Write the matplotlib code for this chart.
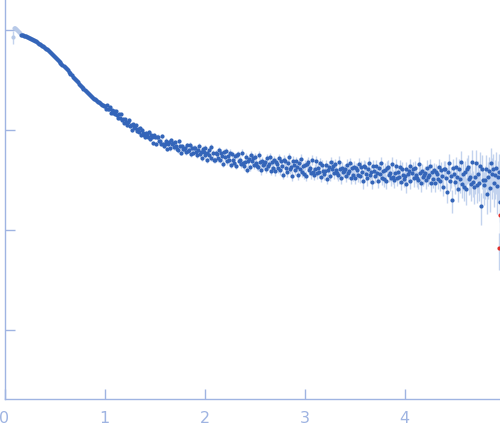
import numpy as np
import matplotlib
matplotlib.use('Agg')
import matplotlib.pyplot as plt

# ---- data ----
q_start = 0.08
q_step = 0.01
log_intensity = [
    -0.070, 0.020,
    0.022, 0.012, 0.004, -0.008, -0.018, -0.030, -0.046, -0.050, -0.053, -0.058,
    -0.061, -0.064, -0.069, -0.073, -0.077, -0.084, -0.088, -0.093, -0.097, -0.103,
    -0.110, -0.115, -0.121, -0.128, -0.136, -0.143, -0.150, -0.158, -0.164, -0.172,
    -0.180, -0.188, -0.195, -0.204, -0.213, -0.223, -0.230, -0.240, -0.248, -0.259,
    -0.268, -0.279, -0.287, -0.298, -0.306, -0.318, -0.328, -0.337, -0.349, -0.358,
    -0.369, -0.382, -0.392, -0.404, -0.418, -0.428, -0.441, -0.452, -0.466, -0.476,
    -0.490, -0.500, -0.515, -0.524, -0.538, -0.548, -0.562, -0.570, -0.581, -0.592,
    -0.600, -0.612, -0.618, -0.632, -0.640, -0.648, -0.662, -0.668, -0.676, -0.688,
    -0.690, -0.703, -0.706, -0.718, -0.722, -0.733, -0.737, -0.750, -0.752, -0.762,
    -0.759, -0.790, -0.754, -0.791, -0.791, -0.768, -0.828, -0.799, -0.829, -0.806,
    -0.842, -0.814, -0.846, -0.884, -0.844, -0.876, -0.842, -0.904, -0.888, -0.926,
    -0.889, -0.924, -0.952, -0.917, -0.896, -0.959, -0.952, -1.001, -0.938, -0.966,
    -0.980, -0.951, -1.013, -0.991, -1.018, -0.982, -1.051, -1.001, -1.035, -1.055,
    -1.072, -1.029, -1.042, -1.071, -1.020, -1.089, -1.046, -1.075, -1.128, -1.053,
    -1.072, -1.139, -1.071, -1.066, -1.115, -1.110, -1.141, -1.064, -1.140, -1.162,
    -1.139, -1.106, -1.190, -1.139, -1.124, -1.181, -1.103, -1.142, -1.127, -1.175,
    -1.120, -1.163, -1.186, -1.199, -1.112, -1.165, -1.228, -1.161, -1.194, -1.187,
    -1.180, -1.222, -1.154, -1.206, -1.198, -1.150, -1.242, -1.184, -1.226, -1.178,
    -1.180, -1.222, -1.254, -1.196, -1.158, -1.240, -1.222, -1.284, -1.186, -1.218,
    -1.254, -1.184, -1.234, -1.296, -1.202, -1.252, -1.170, -1.280, -1.234, -1.296,
    -1.298, -1.228, -1.242, -1.280, -1.198, -1.296, -1.226, -1.264, -1.338, -1.220,
    -1.270, -1.207, -1.313, -1.263, -1.304, -1.228, -1.347, -1.245, -1.299, -1.327,
    -1.264, -1.357, -1.255, -1.244, -1.311, -1.300, -1.341, -1.226, -1.332, -1.360,
    -1.324, -1.270, -1.397, -1.315, -1.288, -1.374, -1.249, -1.307, -1.280, -1.352,
    -1.269, -1.327, -1.356, -1.372, -1.247, -1.319, -1.404, -1.308, -1.351, -1.339,
    -1.325, -1.386, -1.282, -1.358, -1.344, -1.270, -1.406, -1.317, -1.378, -1.304,
    -1.410, -1.321, -1.337, -1.383, -1.279, -1.400, -1.311, -1.357, -1.448, -1.299,
    -1.315, -1.376, -1.422, -1.333, -1.274, -1.395, -1.366, -1.457, -1.308, -1.354,
    -1.400, -1.311, -1.372, -1.448, -1.329, -1.390, -1.286, -1.422, -1.363, -1.439,
    -1.350, -1.456, -1.337, -1.323, -1.399, -1.385, -1.431, -1.297, -1.417, -1.448,
    -1.388, -1.314, -1.435, -1.376, -1.422, -1.332, -1.468, -1.349, -1.410, -1.440,
    -1.410, -1.351, -1.487, -1.398, -1.368, -1.459, -1.325, -1.386, -1.356, -1.432,
    -1.343, -1.404, -1.434, -1.450, -1.316, -1.391, -1.482, -1.378, -1.423, -1.409,
    -1.394, -1.459, -1.347, -1.428, -1.412, -1.333, -1.477, -1.382, -1.446, -1.367,
    -1.479, -1.384, -1.400, -1.448, -1.337, -1.465, -1.370, -1.418, -1.515, -1.356,
    -1.372, -1.437, -1.485, -1.390, -1.326, -1.455, -1.423, -1.520, -1.360, -1.409,
    -1.457, -1.361, -1.426, -1.506, -1.379, -1.443, -1.331, -1.476, -1.413, -1.494,
    -1.398, -1.511, -1.383, -1.368, -1.448, -1.433, -1.481, -1.338, -1.466, -1.499,
    -1.435, -1.356, -1.484, -1.421, -1.469, -1.373, -1.517, -1.390, -1.454, -1.488,
    -1.457, -1.389, -1.542, -1.442, -1.408, -1.510, -1.358, -1.427, -1.393, -1.479,
    -1.377, -1.446, -1.480, -1.497, -1.345, -1.430, -1.533, -1.414, -1.466, -1.450,
    -1.432, -1.505, -1.379, -1.469, -1.452, -1.363, -1.526, -1.418, -1.490, -1.401,
    -1.527, -1.420, -1.438, -1.493, -1.367, -1.512, -1.404, -1.458, -1.567, -1.388,
    -1.394, -1.483, -1.620, -1.418, -1.330, -1.507, -1.463, -1.700, -1.376, -1.443,
    -1.520, -1.370, -1.470, -1.595, -1.395, -1.495, -1.320, -1.545, -1.445, -1.570,
    -1.420, -1.595, -1.395, -1.370, -1.495, -1.470, -1.545, -1.320, -1.520, -1.570,
    -1.470, -1.330, -1.554, -1.442, -1.526, -1.358, -1.760, -1.386, -1.498, -1.554,
    -1.498, -1.386, -1.638, -1.470, -1.414, -1.582, -1.330, -1.442, -1.386, -1.526,
    -1.450, -1.380, -1.560, -1.470, -1.420, -1.720,
]
err_pct = [
    15, 5,
    5, 4, 4, 3, 3, 3, 1, 1, 1, 1,
    1, 1, 1, 1, 1, 1, 1, 1, 1, 1,
    1, 1, 1, 1, 1, 1, 1, 1, 1, 1,
    1, 1, 1, 1, 1, 1, 1, 1, 1, 1,
    1, 1, 1, 1, 1, 1, 1, 1, 1, 1,
    1, 1, 1, 2, 1, 1, 2, 1, 1, 2,
    2, 1, 2, 2, 1, 2, 2, 1, 2, 2,
    2, 2, 2, 2, 2, 2, 2, 2, 2, 2,
    2, 2, 2, 2, 2, 2, 2, 2, 2, 2,
    2, 3, 2, 3, 2, 3, 3, 2, 3, 3,
    3, 3, 2, 3, 3, 3, 3, 3, 3, 3,
    3, 3, 4, 3, 3, 4, 3, 4, 3, 4,
    4, 3, 4, 4, 3, 4, 4, 4, 4, 4,
    4, 4, 4, 5, 4, 4, 5, 4, 5, 4,
    5, 4, 5, 5, 4, 5, 5, 5, 4, 5,
    5, 5, 5, 5, 5, 6, 5, 5, 5, 6,
    5, 6, 5, 6, 6, 5, 6, 6, 6, 6,
    6, 6, 6, 6, 6, 6, 6, 7, 6, 6,
    6, 7, 6, 7, 6, 7, 7, 6, 7, 7,
    7, 7, 6, 7, 7, 7, 7, 7, 7, 7,
    7, 7, 7, 8, 7, 7, 8, 7, 8, 7,
    8, 7, 8, 8, 7, 8, 8, 8, 7, 8,
    8, 8, 8, 8, 8, 9, 8, 8, 8, 9,
    8, 9, 8, 9, 9, 8, 9, 9, 9, 9,
    9, 9, 9, 9, 9, 9, 10, 9, 9, 10,
    9, 10, 9, 10, 10, 9, 10, 10, 10, 10,
    10, 10, 10, 10, 10, 11, 10, 10, 10, 11,
    10, 11, 10, 11, 11, 10, 11, 11, 11, 11,
    11, 11, 11, 11, 11, 12, 11, 11, 11, 12,
    11, 12, 11, 12, 12, 11, 12, 12, 12, 12,
    12, 12, 12, 12, 12, 13, 12, 12, 12, 13,
    12, 13, 12, 13, 13, 12, 13, 13, 13, 13,
    13, 13, 13, 13, 13, 14, 13, 13, 13, 14,
    13, 14, 13, 14, 14, 13, 14, 14, 14, 14,
    14, 14, 14, 15, 14, 14, 15, 14, 15, 14,
    15, 14, 15, 15, 14, 15, 15, 15, 14, 15,
    15, 16, 15, 16, 15, 16, 16, 15, 16, 16,
    16, 16, 17, 16, 16, 17, 16, 17, 16, 17,
    17, 16, 17, 17, 16, 17, 17, 17, 17, 17,
    17, 17, 18, 17, 18, 17, 18, 18, 17, 18,
    18, 18, 18, 19, 18, 18, 19, 18, 19, 18,
    19, 18, 19, 19, 18, 19, 19, 20, 19, 19,
    20, 19, 20, 20, 19, 20, 20, 21, 20, 20,
    20, 21, 22, 21, 23, 22, 24, 26, 22, 23,
    25, 26, 27, 25, 28, 26, 29, 27, 30, 28,
    28, 30, 29, 31, 30, 32, 31, 33, 30, 32,
    32, 34, 33, 35, 34, 36, 35, 38, 34, 36,
    36, 38, 37, 40, 38, 42, 40, 44, 41, 43,
    42, 45, 48, 45, 50, 60,
]
n_excluded = 8
flag_q = [4.94, 4.955]
flag_log_intensity = [-2.18, -1.85]
flag_err_pct = [40, 15]

x_ticks = [0, 1, 2, 3, 4]
x_tick_labels = ['0', '1', '2', '3', '4']
y_ticks = [1, 0.1, 0.01, 0.001]

# ---- derived ----
q = q_start + q_step * np.arange(len(log_intensity))
I = 10.0 ** np.array(log_intensity)
sig = I * np.array(err_pct) / 100.0
fq = np.array(flag_q)
fI = 10.0 ** np.array(flag_log_intensity)
fs = fI * np.array(flag_err_pct) / 100.0

axis_col = '#9fb4e2'
dark = '#3465b9'
light = '#b7c9e8'
err_col = '#c3d3ee'
red = '#e0302c'

fig = plt.figure(figsize=(5.0, 4.37), dpi=100)
ax = fig.add_axes([0.009, 0.087, 0.991, 0.913])
ax.set_yscale('log')

ax.errorbar(q, I, yerr=sig, fmt='none', ecolor=err_col, elinewidth=1.0, capsize=0, zorder=1)
ax.errorbar(fq, fI, yerr=fs, fmt='none', ecolor=err_col, elinewidth=1.0, capsize=0, zorder=1)
ax.plot(q[:n_excluded], I[:n_excluded], 'o', ms=3.0, color=light, mec='none', zorder=2)
ax.plot(q[n_excluded:], I[n_excluded:], 'o', ms=3.0, color=dark, mec='none', zorder=3)
ax.plot(fq, fI, 'o', ms=3.0, color=red, mec='none', zorder=3)

ax.set_xlim(0, 4.955)
ax.set_ylim(10 ** -3.69, 10 ** 0.30)

for s in ['top', 'right']:
    ax.spines[s].set_visible(False)
for s in ['left', 'bottom']:
    ax.spines[s].set_color(axis_col)
    ax.spines[s].set_linewidth(1.0)

ax.set_xticks(x_ticks)
ax.set_xticklabels(x_tick_labels)
ax.set_yticks(y_ticks)
ax.yaxis.set_minor_locator(matplotlib.ticker.NullLocator())
ax.set_yticklabels([])
ax.tick_params(axis='both', which='major', direction='in', length=7, width=1,
               color=axis_col, labelcolor=axis_col, labelsize=11.5)
ax.tick_params(axis='x', pad=9)

fig.savefig('out.png', dpi=100)
